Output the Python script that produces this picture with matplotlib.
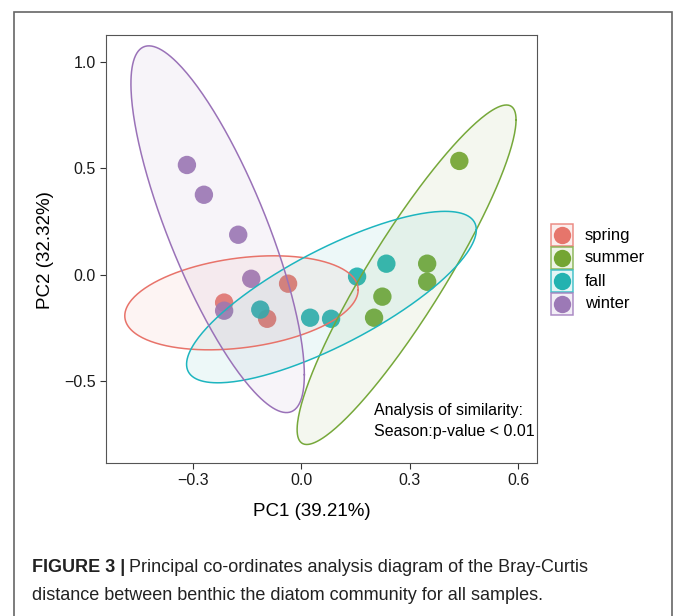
import numpy as np
import matplotlib
matplotlib.use('Agg')
import matplotlib.pyplot as plt
from matplotlib.lines import Line2D
from matplotlib.patches import Rectangle

plt.rcParams['font.family'] = ['Liberation Sans', 'DejaVu Sans']

seasons = ['spring', 'summer', 'fall', 'winter']
colors = {'spring': '#E6756B', 'summer': '#74A533', 'fall': '#22B2B0', 'winter': '#9C79B6'}
edge_colors = {'spring': '#E8736A', 'summer': '#76A83A', 'fall': '#1DB5BF', 'winter': '#9A72B8'}

# sample scores (PC1, PC2)
spring_x = [-0.214, -0.037, -0.095]
spring_y = [-0.131, -0.042, -0.207]
summer_x = [0.437, 0.348, 0.348, 0.224, 0.201]
summer_y = [0.535, 0.052, -0.033, -0.103, -0.202]
fall_x = [-0.114, 0.024, 0.082, 0.154, 0.235]
fall_y = [-0.164, -0.202, -0.207, -0.009, 0.052]
winter_x = [-0.317, -0.270, -0.175, -0.139, -0.214]
winter_y = [0.516, 0.376, 0.188, -0.019, -0.169]

points = {'spring': (spring_x, spring_y), 'summer': (summer_x, summer_y),
          'fall': (fall_x, fall_y), 'winter': (winter_x, winter_y)}

# confidence ellipses: centre x, half x-extent, centre y, half y-extent, phase (deg)
ell_cx = {'spring': -0.166, 'summer': 0.291, 'fall': 0.083, 'winter': -0.232}
ell_ax = {'spring': 0.323, 'summer': 0.303, 'fall': 0.401, 'winter': 0.240}
ell_cy = {'spring': -0.132, 'summer': 0.000, 'fall': -0.105, 'winter': 0.214}
ell_ay = {'spring': 0.221, 'summer': 0.798, 'fall': 0.403, 'winter': 0.862}
ell_phi = {'spring': 73.9, 'summer': 24.2, 'fall': 38.4, 'winter': 142.5}

xticks = [-0.3, 0.0, 0.3, 0.6]
yticks = [-0.5, 0.0, 0.5, 1.0]

W, H = 674, 616
fig = plt.figure(figsize=(W / 100, H / 100), dpi=100)
ax = fig.add_axes([106 / W, 1 - 463 / H, 431 / W, 428 / H])

for s in seasons:
    ax.scatter(points[s][0], points[s][1], s=175, color=colors[s], alpha=0.92,
               edgecolors='none', zorder=2)

t = np.linspace(0, 2 * np.pi, 300)
for s in seasons:
    phi = np.deg2rad(ell_phi[s])
    ex = ell_cx[s] + ell_ax[s] * np.cos(t)
    ey = ell_cy[s] + ell_ay[s] * np.cos(t - phi)
    ax.fill(ex, ey, color=colors[s], alpha=0.08, lw=0, zorder=3)
    ax.plot(ex, ey, color=edge_colors[s], lw=1.1, zorder=4)

ax.set_xlim(-0.541, 0.652)
ax.set_ylim(-0.885, 1.127)
ax.set_xticks(xticks)
ax.set_yticks(yticks)
ax.tick_params(labelsize=11.5, length=4, color='#333333', labelcolor='#1a1a1a', width=0.8)
for sp in ax.spines.values():
    sp.set_color('#555555')
    sp.set_linewidth(0.8)

ax.set_xlabel('PC1 (39.21%)', fontsize=13.5)
ax.set_ylabel('PC2 (32.32%)', fontsize=13.5)
ax.xaxis.set_label_coords((312 - 106) / 431, -(512 - 463) / 428)
ax.yaxis.set_label_coords(-(106 - 45) / 431, (463 - 250) / 428)
ax.xaxis.label.set_va('center')
ax.yaxis.label.set_va('center')

ax.text(0.201, -0.605, 'Analysis of similarity:\nSeason:p-value < 0.01',
        fontsize=11.5, va='top', ha='left', linespacing=1.45, zorder=5)

# legend keys drawn as boxes with a dot
for i, s in enumerate(seasons):
    top = 224 + 23 * i
    fig.patches.append(Rectangle((551 / W, 1 - (top + 22) / H), 22 / W, 22 / H,
                                 transform=fig.transFigure, facecolor=colors[s],
                                 alpha=0.12, edgecolor='none'))
    fig.patches.append(Rectangle((551 / W, 1 - (top + 22) / H), 22 / W, 22 / H,
                                 transform=fig.transFigure, fill=False,
                                 edgecolor=edge_colors[s], lw=1.1, alpha=0.8))
    fig.lines.append(Line2D([562 / W], [1 - (top + 11) / H], transform=fig.transFigure,
                            marker='o', ls='', markersize=12.5, color=colors[s],
                            markeredgewidth=0))
    fig.text(585 / W, 1 - (top + 11) / H, s, fontsize=12, va='center', ha='left')

# outer frame of the figure panel
fig.patches.append(Rectangle((14 / W, -0.05), 658 / W, 1.05 - 12 / H,
                             transform=fig.transFigure, fill=False,
                             edgecolor='#666666', lw=1.2))

cap1 = fig.text(32 / W, 1 - 568 / H, 'FIGURE 3 |', fontsize=13, fontweight='bold',
                va='center', ha='left', color='#222222')
ax.annotate('Principal co-ordinates analysis diagram of the Bray-Curtis',
            xy=(1, 0.5), xycoords=cap1, xytext=(3, 0), textcoords='offset points',
            fontsize=13, va='center', ha='left', color='#222222', annotation_clip=False)
fig.text(32 / W, 1 - 596 / H,
         'distance between benthic the diatom community for all samples.',
         fontsize=13, va='center', ha='left', color='#222222')

fig.savefig('out.png', dpi=100)
